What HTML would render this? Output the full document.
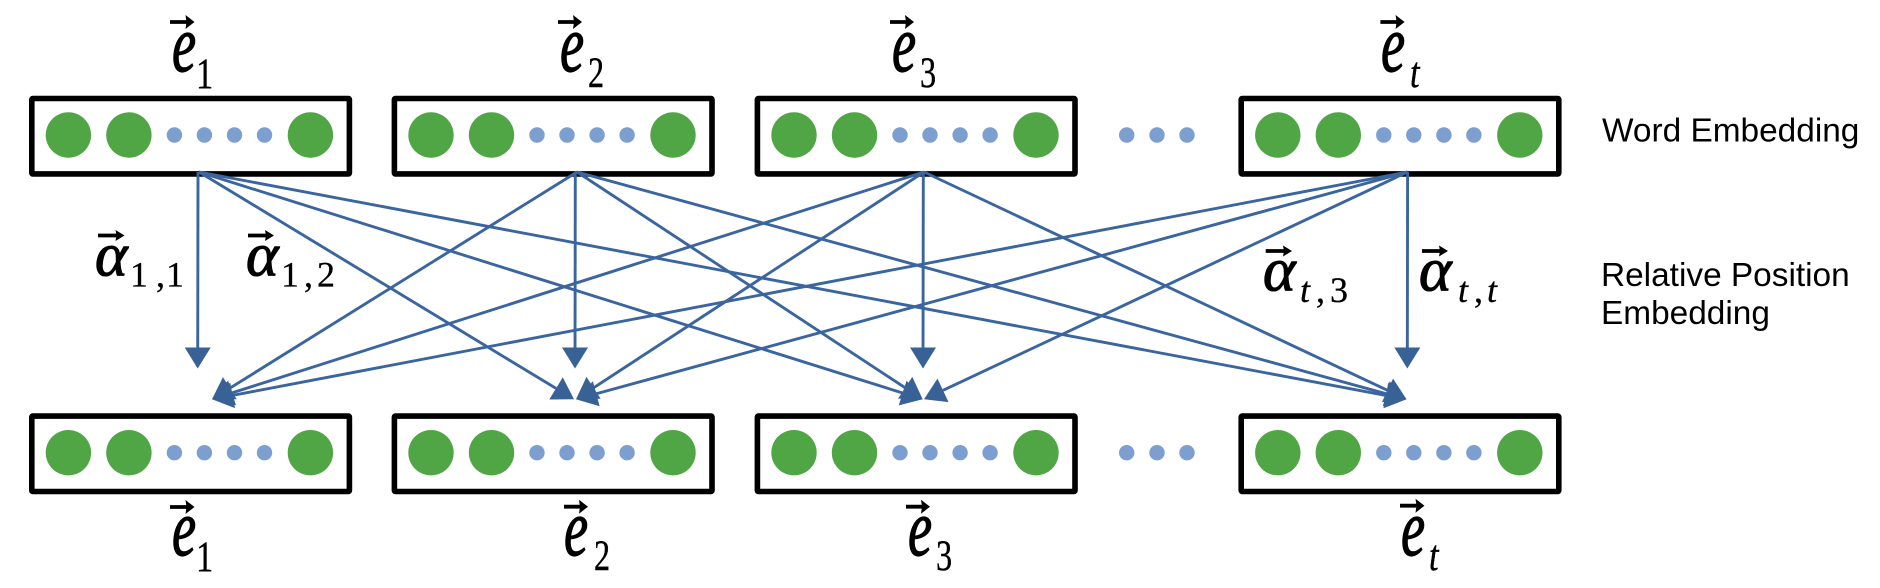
<!DOCTYPE html>
<html lang="en">
<head>
<meta charset="utf-8">
<title>Relative position embedding diagram</title>
<style>
html,body{margin:0;padding:0;background:#fff;width:1880px;height:588px;overflow:hidden}
svg{display:block}
.e{font-family:"Liberation Serif",serif;font-style:italic;font-size:80px;fill:#000;stroke:#000;stroke-width:1.2px}
.s{font-family:"Liberation Serif",serif;font-size:43px;fill:#000;stroke:#000;stroke-width:.4px}
.si{font-family:"Liberation Serif",serif;font-style:italic;font-size:43px;fill:#000;stroke:#000;stroke-width:.4px}
.a{font-family:"Liberation Serif",serif;font-style:italic;font-size:62px;fill:#000;stroke:#000;stroke-width:1.1px}
.as{font-family:"Liberation Serif",serif;font-size:36px;fill:#000;stroke:#000;stroke-width:.3px}
.asi{font-family:"Liberation Serif",serif;font-style:italic;font-size:36px;fill:#000;stroke:#000;stroke-width:.3px}
.lab{font-family:"Liberation Sans",sans-serif;font-size:33.4px;fill:#000}
</style>
</head>
<body>
<svg id="diagram" xmlns="http://www.w3.org/2000/svg" width="1880" height="588" viewBox="0 0 1880 588">
  <rect width="1880" height="588" fill="#fff"/>
  <g id="boxes"></g>
  <g id="arrows"></g>
  <g id="vecs"></g>

  <g>
    <text class="e" transform="translate(172,71) scale(.68,1)">e</text>
    <text class="s" transform="translate(196,88) scale(.8,1)">1</text>
    <text class="e" transform="translate(560,71) scale(.68,1)">e</text>
    <text class="s" transform="translate(588,87) scale(.75,1)">2</text>
    <text class="e" transform="translate(892,71) scale(.68,1)">e</text>
    <text class="s" transform="translate(920,87) scale(.75,1)">3</text>
    <text class="e" transform="translate(1381,71) scale(.68,1)">e</text>
    <text class="si" transform="translate(1410,87) scale(.8,1)">t</text>
  </g>

  <g>
    <text class="e" transform="translate(172,555) scale(.68,1)">e</text>
    <text class="s" transform="translate(196,571) scale(.8,1)">1</text>
    <text class="e" transform="translate(564,555) scale(.68,1)">e</text>
    <text class="s" transform="translate(594,570) scale(.75,1)">2</text>
    <text class="e" transform="translate(908,555) scale(.68,1)">e</text>
    <text class="s" transform="translate(936,570) scale(.75,1)">3</text>
    <text class="e" transform="translate(1401,555) scale(.68,1)">e</text>
    <text class="si" transform="translate(1429,570) scale(.8,1)">t</text>
  </g>

  <g>
    <text class="a" x="95" y="275.5">α</text>
    <text class="as" x="130 156 166" y="286.5">1,1</text>
    <text class="a" x="246" y="275.5">α</text>
    <text class="as" x="281 304 317" y="286.5">1,2</text>
    <text class="a" x="1263" y="290.5">α</text>
    <text class="asi" x="1300" y="302">t</text>
    <text class="as" x="1316" y="302">,</text>
    <text class="as" x="1330" y="302">3</text>
    <text class="a" x="1419" y="290.5">α</text>
    <text class="asi" x="1458" y="302">t</text>
    <text class="as" x="1474" y="302">,</text>
    <text class="asi" x="1487" y="302">t</text>
  </g>

  <g>
    <text class="lab" x="1602" y="141.7">Word Embedding</text>
    <text class="lab" x="1601" y="286">Relative Position</text>
    <text class="lab" x="1601" y="324">Embedding</text>
  </g>
</svg>
<script>
var NS = 'http://www.w3.org/2000/svg';
var boxOffsets = [0, 362.6, 725.6, 1209.4];
var rowTops = [95.7, 413.3];
var rowCenters = [135, 452.7];
var bigDots = [68.4, 128.9, 310.4];
var smallDots = [174.4, 204.4, 234.5, 264.5];
var gapDots = [1126.7, 1157, 1187];
var sources = [199, 577, 924, 1407.5];
var verticals = [197.7, 575, 923, 1407.3];
var tipsFromLeft = [212, 574, 922.7, 1406.5];
var tipsFromRight = [212, 576, 924, 1406.5];
var vectorMarks = [
  [170, 194.5, 22, 7], [558, 582, 22, 7], [890, 914, 22, 7], [1380.4, 1404.6, 22, 7],
  [170, 194.5, 507, 7], [564, 588, 506.7, 7], [906, 930, 506.7, 7], [1400, 1424.5, 505.7, 7],
  [98, 124.5, 235.5, 5.5], [248, 274, 235.5, 5.5], [1265.7, 1292, 251, 5.5], [1422, 1448, 251, 5.5]
];
var boxesLayer = document.getElementById('boxes');
var arrowsLayer = document.getElementById('arrows');
var vecsLayer = document.getElementById('vecs');

function make(tag, attrs, parent) {
  var el = document.createElementNS(NS, tag);
  for (var k in attrs) el.setAttribute(k, attrs[k]);
  parent.appendChild(el);
  return el;
}

rowTops.forEach(function (top, r) {
  boxOffsets.forEach(function (off, b) {
    var box = make('rect', {x: 31.8 + off, y: top + 2.8, width: 317.6, height: 75.4, rx: 1, fill: '#fff', stroke: '#000', 'stroke-width': 5.6, 'stroke-linejoin': 'round'}, boxesLayer);
    
    
    bigDots.forEach(function (x) {
      var c = make('circle', {cx: x + off, cy: rowCenters[r], r: 22.7, fill: '#50a545'}, boxesLayer);
      
      
    });
    smallDots.forEach(function (x) {
      var c = make('circle', {cx: x + off, cy: rowCenters[r], r: 7.7, fill: '#7c9fcf'}, boxesLayer);
      
      
    });
  });
  gapDots.forEach(function (x) {
    var c = make('circle', {cx: x, cy: rowCenters[r], r: 7.7, fill: '#7c9fcf'}, boxesLayer);
    
    
  });
});

function arrow(x0, y0, x1, y1) {
  var dx = x1 - x0, dy = y1 - y0, len = Math.sqrt(dx * dx + dy * dy);
  var ux = dx / len, uy = dy / len;
  var bx = x1 - 21 * ux, by = y1 - 21 * uy;
  var line = make('line', {x1: x0, y1: y0, x2: bx, y2: by, stroke: '#3a659f', 'stroke-width': 2.9}, arrowsLayer);
  
  
  var pts = [x1, y1, bx + 13 * uy, by - 13 * ux, bx - 13 * uy, by + 13 * ux].join(' ');
  var head = make('polygon', {points: pts, fill: '#386196'}, arrowsLayer);
  
  
}

sources.forEach(function (sx, i) {
  sources.forEach(function (_, j) {
    if (i === j) {
      arrow(verticals[i] + 0.3, 172, verticals[i], 368.5);
    } else if (i < j) {
      arrow(sx, 172, tipsFromLeft[j], 399.3);
    } else {
      arrow(sx, 172, tipsFromRight[j], 399.3);
    }
  });
});

vectorMarks.forEach(function (v) {
  var shaft = make('line', {x1: v[0], y1: v[2], x2: v[1] - 6, y2: v[2], stroke: '#000', 'stroke-width': 3.8}, vecsLayer);
  
  
  var pts = [v[1], v[2], v[1] - 9, v[2] - v[3], v[1] - 8, v[2], v[1] - 9, v[2] + v[3]].join(' ');
  var tip = make('polygon', {points: pts, fill: '#000'}, vecsLayer);
  
  
});
</script>
</body>
</html>
